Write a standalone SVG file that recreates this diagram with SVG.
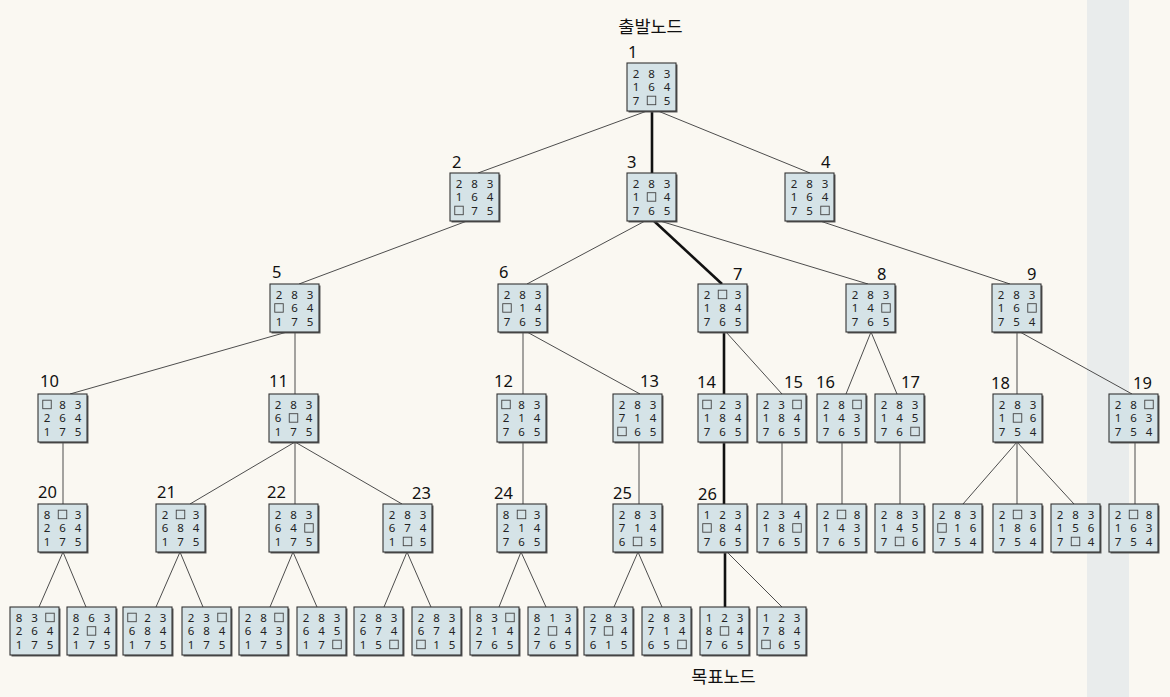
<svg xmlns="http://www.w3.org/2000/svg" xmlns:xlink="http://www.w3.org/1999/xlink" width="1170" height="697" viewBox="0 0 1170 697">
<style>
.bg{fill:#faf8f2}
.band{fill:#e9ecec}
.e{stroke:#4d4d4d;stroke-width:1;fill:none}
.t{stroke:#111;stroke-width:2.6;fill:none}
.sh{fill:#5a5a5a}
.box{fill:#d5e3e7;stroke:#333;stroke-width:1.1}
.d{font-family:"Noto Sans","DejaVu Sans",sans-serif;font-size:11.5px;fill:#222;text-anchor:middle}
.b{fill:none;stroke:#444;stroke-width:0.9}
.lb{font-family:"Noto Sans","DejaVu Sans",sans-serif;font-size:16.5px;fill:#111}
.kr{font-family:"Noto Sans CJK KR","Noto Sans",sans-serif;font-size:17.5px;fill:#111;text-anchor:middle}
</style>
<defs>
<rect id="bk" class="b" width="8.5" height="8.5"/>
<g id="frame"><rect class="sh" x="1.5" y="1.5" width="49" height="48"/><rect class="box" width="49" height="48"/></g>
</defs>
<rect class="bg" width="1170" height="697"/>
<rect class="band" x="1087" y="0" width="42" height="697"/>
<text class="kr" x="650.5" y="33">출발노드</text>
<text class="kr" x="723.5" y="683">목표노드</text>
<g id="connectors">
<line class="e" x1="647" y1="111" x2="478" y2="173"/>
<line class="t" x1="652" y1="111" x2="652" y2="173"/>
<line class="e" x1="658" y1="111" x2="810" y2="173"/>
<line class="e" x1="467" y1="221" x2="299" y2="284"/>
<line class="e" x1="645" y1="221" x2="527" y2="284"/>
<line class="t" x1="654" y1="221" x2="722" y2="284"/>
<line class="e" x1="660" y1="221" x2="868" y2="284"/>
<line class="e" x1="820" y1="221" x2="1010" y2="284"/>
<line class="e" x1="287" y1="332" x2="70" y2="394"/>
<line class="e" x1="295" y1="332" x2="295" y2="394"/>
<line class="e" x1="523" y1="332" x2="523" y2="394"/>
<line class="e" x1="527" y1="332" x2="640" y2="394"/>
<line class="t" x1="724" y1="332" x2="724" y2="394"/>
<line class="e" x1="726" y1="332" x2="782" y2="394"/>
<line class="e" x1="871" y1="332" x2="846" y2="394"/>
<line class="e" x1="871" y1="332" x2="897" y2="394"/>
<line class="e" x1="1017" y1="332" x2="1017" y2="394"/>
<line class="e" x1="1020" y1="332" x2="1132" y2="394"/>
<line class="e" x1="63" y1="442" x2="63" y2="504"/>
<line class="e" x1="295" y1="442" x2="190" y2="504"/>
<line class="e" x1="295" y1="442" x2="295" y2="504"/>
<line class="e" x1="295" y1="442" x2="402" y2="504"/>
<line class="e" x1="523" y1="442" x2="523" y2="504"/>
<line class="e" x1="639" y1="442" x2="639" y2="504"/>
<line class="t" x1="724" y1="442" x2="724" y2="504"/>
<line class="e" x1="782" y1="442" x2="782" y2="504"/>
<line class="e" x1="842" y1="442" x2="842" y2="504"/>
<line class="e" x1="900" y1="442" x2="900" y2="504"/>
<line class="e" x1="1017" y1="442" x2="963" y2="504"/>
<line class="e" x1="1017" y1="442" x2="1017" y2="504"/>
<line class="e" x1="1017" y1="442" x2="1074" y2="504"/>
<line class="e" x1="1135" y1="442" x2="1135" y2="504"/>
<line class="e" x1="63" y1="552" x2="39" y2="607"/>
<line class="e" x1="63" y1="552" x2="86" y2="607"/>
<line class="e" x1="180" y1="552" x2="156" y2="607"/>
<line class="e" x1="180" y1="552" x2="203" y2="607"/>
<line class="e" x1="293" y1="552" x2="270" y2="607"/>
<line class="e" x1="293" y1="552" x2="317" y2="607"/>
<line class="e" x1="407" y1="552" x2="384" y2="607"/>
<line class="e" x1="407" y1="552" x2="431" y2="607"/>
<line class="e" x1="521" y1="552" x2="499" y2="607"/>
<line class="e" x1="521" y1="552" x2="546" y2="607"/>
<line class="e" x1="638" y1="552" x2="614" y2="607"/>
<line class="e" x1="638" y1="552" x2="662" y2="607"/>
<line class="t" x1="725" y1="552" x2="725" y2="607"/>
<line class="e" x1="727" y1="552" x2="782" y2="607"/>
</g>

<g id="n1" transform="translate(627,63)"><use href="#frame"/><text class="lb" x="1" y="-5">1</text><text class="d" x="9 24.5 40" y="14.5">283</text><text class="d" x="9 24.5 40" y="28">164</text><text class="d" x="9 40" y="41.5">75</text><use href="#bk" x="20.25" y="33.2"/></g>
<g id="n2" transform="translate(450,173)"><use href="#frame"/><text class="lb" x="2" y="-5">2</text><text class="d" x="9 24.5 40" y="14.5">283</text><text class="d" x="9 24.5 40" y="28">164</text><text class="d" x="24.5 40" y="41.5">75</text><use href="#bk" x="4.75" y="33.2"/></g>
<g id="n3" transform="translate(627,173)"><use href="#frame"/><text class="lb" x="0" y="-5">3</text><text class="d" x="9 24.5 40" y="14.5">283</text><text class="d" x="9 40" y="28">14</text><text class="d" x="9 24.5 40" y="41.5">765</text><use href="#bk" x="20.25" y="19.7"/></g>
<g id="n4" transform="translate(785,173)"><use href="#frame"/><text class="lb" x="36" y="-5">4</text><text class="d" x="9 24.5 40" y="14.5">283</text><text class="d" x="9 24.5 40" y="28">164</text><text class="d" x="9 24.5" y="41.5">75</text><use href="#bk" x="35.75" y="33.2"/></g>
<g id="n5" transform="translate(270,284)"><use href="#frame"/><text class="lb" x="2" y="-6">5</text><text class="d" x="9 24.5 40" y="14.5">283</text><text class="d" x="24.5 40" y="28">64</text><text class="d" x="9 24.5 40" y="41.5">175</text><use href="#bk" x="4.75" y="19.7"/></g>
<g id="n6" transform="translate(498,284)"><use href="#frame"/><text class="lb" x="1" y="-6">6</text><text class="d" x="9 24.5 40" y="14.5">283</text><text class="d" x="24.5 40" y="28">14</text><text class="d" x="9 24.5 40" y="41.5">765</text><use href="#bk" x="4.75" y="19.7"/></g>
<g id="n7" transform="translate(698,284)"><use href="#frame"/><text class="lb" x="35" y="-4">7</text><text class="d" x="9 40" y="14.5">23</text><text class="d" x="9 24.5 40" y="28">184</text><text class="d" x="9 24.5 40" y="41.5">765</text><use href="#bk" x="20.25" y="6.2"/></g>
<g id="n8" transform="translate(846,284)"><use href="#frame"/><text class="lb" x="31" y="-4">8</text><text class="d" x="9 24.5 40" y="14.5">283</text><text class="d" x="9 24.5" y="28">14</text><text class="d" x="9 24.5 40" y="41.5">765</text><use href="#bk" x="35.75" y="19.7"/></g>
<g id="n9" transform="translate(992,284)"><use href="#frame"/><text class="lb" x="35" y="-4">9</text><text class="d" x="9 24.5 40" y="14.5">283</text><text class="d" x="9 24.5" y="28">16</text><text class="d" x="9 24.5 40" y="41.5">754</text><use href="#bk" x="35.75" y="19.7"/></g>
<g id="n10" transform="translate(38,394)"><use href="#frame"/><text class="lb" x="2" y="-7">10</text><text class="d" x="24.5 40" y="14.5">83</text><text class="d" x="9 24.5 40" y="28">264</text><text class="d" x="9 24.5 40" y="41.5">175</text><use href="#bk" x="4.75" y="6.2"/></g>
<g id="n11" transform="translate(269,394)"><use href="#frame"/><text class="lb" x="0" y="-7">11</text><text class="d" x="9 24.5 40" y="14.5">283</text><text class="d" x="9 40" y="28">64</text><text class="d" x="9 24.5 40" y="41.5">175</text><use href="#bk" x="20.25" y="19.7"/></g>
<g id="n12" transform="translate(497,394)"><use href="#frame"/><text class="lb" x="-3" y="-7">12</text><text class="d" x="24.5 40" y="14.5">83</text><text class="d" x="9 24.5 40" y="28">214</text><text class="d" x="9 24.5 40" y="41.5">765</text><use href="#bk" x="4.75" y="6.2"/></g>
<g id="n13" transform="translate(613,394)"><use href="#frame"/><text class="lb" x="27" y="-7">13</text><text class="d" x="9 24.5 40" y="14.5">283</text><text class="d" x="9 24.5 40" y="28">714</text><text class="d" x="24.5 40" y="41.5">65</text><use href="#bk" x="4.75" y="33.2"/></g>
<g id="n14" transform="translate(698,394)"><use href="#frame"/><text class="lb" x="-1" y="-6">14</text><text class="d" x="24.5 40" y="14.5">23</text><text class="d" x="9 24.5 40" y="28">184</text><text class="d" x="9 24.5 40" y="41.5">765</text><use href="#bk" x="4.75" y="6.2"/></g>
<g id="n15" transform="translate(757,394)"><use href="#frame"/><text class="lb" x="27" y="-6">15</text><text class="d" x="9 24.5" y="14.5">23</text><text class="d" x="9 24.5 40" y="28">184</text><text class="d" x="9 24.5 40" y="41.5">765</text><use href="#bk" x="35.75" y="6.2"/></g>
<g id="n16" transform="translate(817,394)"><use href="#frame"/><text class="lb" x="-1" y="-6">16</text><text class="d" x="9 24.5" y="14.5">28</text><text class="d" x="9 24.5 40" y="28">143</text><text class="d" x="9 24.5 40" y="41.5">765</text><use href="#bk" x="35.75" y="6.2"/></g>
<g id="n17" transform="translate(875,394)"><use href="#frame"/><text class="lb" x="26" y="-6">17</text><text class="d" x="9 24.5 40" y="14.5">283</text><text class="d" x="9 24.5 40" y="28">145</text><text class="d" x="9 24.5" y="41.5">76</text><use href="#bk" x="35.75" y="33.2"/></g>
<g id="n18" transform="translate(993,394)"><use href="#frame"/><text class="lb" x="-2" y="-5">18</text><text class="d" x="9 24.5 40" y="14.5">283</text><text class="d" x="9 40" y="28">16</text><text class="d" x="9 24.5 40" y="41.5">754</text><use href="#bk" x="20.25" y="19.7"/></g>
<g id="n19" transform="translate(1109,394)"><use href="#frame"/><text class="lb" x="24" y="-5">19</text><text class="d" x="9 24.5" y="14.5">28</text><text class="d" x="9 24.5 40" y="28">163</text><text class="d" x="9 24.5 40" y="41.5">754</text><use href="#bk" x="35.75" y="6.2"/></g>
<g id="n20" transform="translate(38,504)"><use href="#frame"/><text class="lb" x="0" y="-6">20</text><text class="d" x="9 40" y="14.5">83</text><text class="d" x="9 24.5 40" y="28">264</text><text class="d" x="9 24.5 40" y="41.5">175</text><use href="#bk" x="20.25" y="6.2"/></g>
<g id="n21" transform="translate(156,504)"><use href="#frame"/><text class="lb" x="1" y="-6">21</text><text class="d" x="9 40" y="14.5">23</text><text class="d" x="9 24.5 40" y="28">684</text><text class="d" x="9 24.5 40" y="41.5">175</text><use href="#bk" x="20.25" y="6.2"/></g>
<g id="n22" transform="translate(269,504)"><use href="#frame"/><text class="lb" x="-2" y="-6">22</text><text class="d" x="9 24.5 40" y="14.5">283</text><text class="d" x="9 24.5" y="28">64</text><text class="d" x="9 24.5 40" y="41.5">175</text><use href="#bk" x="35.75" y="19.7"/></g>
<g id="n23" transform="translate(383,504)"><use href="#frame"/><text class="lb" x="29" y="-5">23</text><text class="d" x="9 24.5 40" y="14.5">283</text><text class="d" x="9 24.5 40" y="28">674</text><text class="d" x="9 40" y="41.5">15</text><use href="#bk" x="20.25" y="33.2"/></g>
<g id="n24" transform="translate(497,504)"><use href="#frame"/><text class="lb" x="-3" y="-5">24</text><text class="d" x="9 40" y="14.5">83</text><text class="d" x="9 24.5 40" y="28">214</text><text class="d" x="9 24.5 40" y="41.5">765</text><use href="#bk" x="20.25" y="6.2"/></g>
<g id="n25" transform="translate(613,504)"><use href="#frame"/><text class="lb" x="0" y="-5">25</text><text class="d" x="9 24.5 40" y="14.5">283</text><text class="d" x="9 24.5 40" y="28">714</text><text class="d" x="9 40" y="41.5">65</text><use href="#bk" x="20.25" y="33.2"/></g>
<g id="n26" transform="translate(698,504)"><use href="#frame"/><text class="lb" x="0" y="-4">26</text><text class="d" x="9 24.5 40" y="14.5">123</text><text class="d" x="24.5 40" y="28">84</text><text class="d" x="9 24.5 40" y="41.5">765</text><use href="#bk" x="4.75" y="19.7"/></g>
<g id="n27" transform="translate(757,504)"><use href="#frame"/><text class="d" x="9 24.5 40" y="14.5">234</text><text class="d" x="9 24.5" y="28">18</text><text class="d" x="9 24.5 40" y="41.5">765</text><use href="#bk" x="35.75" y="19.7"/></g>
<g id="n28" transform="translate(817,504)"><use href="#frame"/><text class="d" x="9 40" y="14.5">28</text><text class="d" x="9 24.5 40" y="28">143</text><text class="d" x="9 24.5 40" y="41.5">765</text><use href="#bk" x="20.25" y="6.2"/></g>
<g id="n29" transform="translate(875,504)"><use href="#frame"/><text class="d" x="9 24.5 40" y="14.5">283</text><text class="d" x="9 24.5 40" y="28">145</text><text class="d" x="9 40" y="41.5">76</text><use href="#bk" x="20.25" y="33.2"/></g>
<g id="n30" transform="translate(933,504)"><use href="#frame"/><text class="d" x="9 24.5 40" y="14.5">283</text><text class="d" x="24.5 40" y="28">16</text><text class="d" x="9 24.5 40" y="41.5">754</text><use href="#bk" x="4.75" y="19.7"/></g>
<g id="n31" transform="translate(993,504)"><use href="#frame"/><text class="d" x="9 40" y="14.5">23</text><text class="d" x="9 24.5 40" y="28">186</text><text class="d" x="9 24.5 40" y="41.5">754</text><use href="#bk" x="20.25" y="6.2"/></g>
<g id="n32" transform="translate(1051,504)"><use href="#frame"/><text class="d" x="9 24.5 40" y="14.5">283</text><text class="d" x="9 24.5 40" y="28">156</text><text class="d" x="9 40" y="41.5">74</text><use href="#bk" x="20.25" y="33.2"/></g>
<g id="n33" transform="translate(1109,504)"><use href="#frame"/><text class="d" x="9 40" y="14.5">28</text><text class="d" x="9 24.5 40" y="28">163</text><text class="d" x="9 24.5 40" y="41.5">754</text><use href="#bk" x="20.25" y="6.2"/></g>
<g id="n34" transform="translate(10,607)"><use href="#frame"/><text class="d" x="9 24.5" y="14.5">83</text><text class="d" x="9 24.5 40" y="28">264</text><text class="d" x="9 24.5 40" y="41.5">175</text><use href="#bk" x="35.75" y="6.2"/></g>
<g id="n35" transform="translate(67,607)"><use href="#frame"/><text class="d" x="9 24.5 40" y="14.5">863</text><text class="d" x="9 40" y="28">24</text><text class="d" x="9 24.5 40" y="41.5">175</text><use href="#bk" x="20.25" y="19.7"/></g>
<g id="n36" transform="translate(123,607)"><use href="#frame"/><text class="d" x="24.5 40" y="14.5">23</text><text class="d" x="9 24.5 40" y="28">684</text><text class="d" x="9 24.5 40" y="41.5">175</text><use href="#bk" x="4.75" y="6.2"/></g>
<g id="n37" transform="translate(182,607)"><use href="#frame"/><text class="d" x="9 24.5" y="14.5">23</text><text class="d" x="9 24.5 40" y="28">684</text><text class="d" x="9 24.5 40" y="41.5">175</text><use href="#bk" x="35.75" y="6.2"/></g>
<g id="n38" transform="translate(239,607)"><use href="#frame"/><text class="d" x="9 24.5" y="14.5">28</text><text class="d" x="9 24.5 40" y="28">643</text><text class="d" x="9 24.5 40" y="41.5">175</text><use href="#bk" x="35.75" y="6.2"/></g>
<g id="n39" transform="translate(297,607)"><use href="#frame"/><text class="d" x="9 24.5 40" y="14.5">283</text><text class="d" x="9 24.5 40" y="28">645</text><text class="d" x="9 24.5" y="41.5">17</text><use href="#bk" x="35.75" y="33.2"/></g>
<g id="n40" transform="translate(354,607)"><use href="#frame"/><text class="d" x="9 24.5 40" y="14.5">283</text><text class="d" x="9 24.5 40" y="28">674</text><text class="d" x="9 24.5" y="41.5">15</text><use href="#bk" x="35.75" y="33.2"/></g>
<g id="n41" transform="translate(412,607)"><use href="#frame"/><text class="d" x="9 24.5 40" y="14.5">283</text><text class="d" x="9 24.5 40" y="28">674</text><text class="d" x="24.5 40" y="41.5">15</text><use href="#bk" x="4.75" y="33.2"/></g>
<g id="n42" transform="translate(470,607)"><use href="#frame"/><text class="d" x="9 24.5" y="14.5">83</text><text class="d" x="9 24.5 40" y="28">214</text><text class="d" x="9 24.5 40" y="41.5">765</text><use href="#bk" x="35.75" y="6.2"/></g>
<g id="n43" transform="translate(528,607)"><use href="#frame"/><text class="d" x="9 24.5 40" y="14.5">813</text><text class="d" x="9 40" y="28">24</text><text class="d" x="9 24.5 40" y="41.5">765</text><use href="#bk" x="20.25" y="19.7"/></g>
<g id="n44" transform="translate(584,607)"><use href="#frame"/><text class="d" x="9 24.5 40" y="14.5">283</text><text class="d" x="9 40" y="28">74</text><text class="d" x="9 24.5 40" y="41.5">615</text><use href="#bk" x="20.25" y="19.7"/></g>
<g id="n45" transform="translate(642,607)"><use href="#frame"/><text class="d" x="9 24.5 40" y="14.5">283</text><text class="d" x="9 24.5 40" y="28">714</text><text class="d" x="9 24.5" y="41.5">65</text><use href="#bk" x="35.75" y="33.2"/></g>
<g id="n46" transform="translate(700,607)"><use href="#frame"/><text class="d" x="9 24.5 40" y="14.5">123</text><text class="d" x="9 40" y="28">84</text><text class="d" x="9 24.5 40" y="41.5">765</text><use href="#bk" x="20.25" y="19.7"/></g>
<g id="n47" transform="translate(757,607)"><use href="#frame"/><text class="d" x="9 24.5 40" y="14.5">123</text><text class="d" x="9 24.5 40" y="28">784</text><text class="d" x="24.5 40" y="41.5">65</text><use href="#bk" x="4.75" y="33.2"/></g>
</svg>
